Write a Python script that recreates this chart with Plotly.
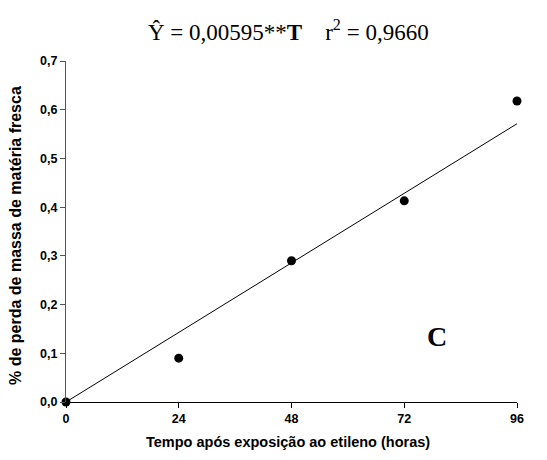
import plotly.graph_objects as go

tempo = [0, 24, 48, 72, 96]
perda = [0.0, 0.09, 0.29, 0.413, 0.618]
coef = 0.00595
x_ticks = [0, 24, 48, 72, 96]
y_ticks = [0.0, 0.1, 0.2, 0.3, 0.4, 0.5, 0.6, 0.7]
y_labels = ["0,0", "0,1", "0,2", "0,3", "0,4", "0,5", "0,6", "0,7"]

fit_x = [0, 96]
fit_y = [coef * t for t in fit_x]

OFF = 8  # default page body margin
W, H = 547 - OFF, 460 - OFF
L, T = 66 - OFF, 61 - OFF
R, B = 30, 58
pw, ph = W - L - R, H - T - B


def px(x):
    return (x - OFF - L) / pw


def py(y):
    return (T + ph - (y - OFF)) / ph


fig = go.Figure()
fig.add_trace(go.Scatter(x=fit_x, y=fit_y, mode="lines",
                         line=dict(color="black", width=1), showlegend=False,
                         cliponaxis=False))
fig.add_trace(go.Scatter(x=tempo, y=perda, mode="markers",
                         marker=dict(color="black", size=9), showlegend=False,
                         cliponaxis=False))

fig.update_layout(
    width=W, height=H,
    margin=dict(l=L, r=R, t=T, b=B, autoexpand=False),
    paper_bgcolor="white", plot_bgcolor="white",
    font=dict(family="Liberation Sans, Arial", color="black"),
    xaxis=dict(range=[0, 96], tickvals=x_ticks,
               ticktext=["<b>%d</b>" % v for v in x_ticks], automargin=False,
               showgrid=False, zeroline=False, showline=True, linecolor="black",
               linewidth=1, ticks="outside", ticklen=5, tickcolor="black",
               tickfont=dict(size=12.5, family="Liberation Sans", color="black")),
    yaxis=dict(range=[0, 0.7], tickvals=y_ticks, ticktext=["<b>%s</b>" % s for s in y_labels],
               automargin=False,
               showgrid=False, zeroline=False, showline=True, linecolor="#555",
               linewidth=1, ticks="outside", ticklen=5, tickcolor="#555",
               tickfont=dict(size=12.5, family="Liberation Sans", color="black")),
)

fig.add_annotation(xref="paper", yref="paper", x=px(288), y=py(442),
                   text="<b>Tempo após exposição ao etileno (horas)</b>",
                   showarrow=False, xanchor="center", yanchor="middle",
                   font=dict(family="Liberation Sans", size=14.5, color="black"))
fig.add_annotation(xref="paper", yref="paper", x=px(15), y=py(236),
                   text="<b>% de perda de massa de matéria fresca</b>", textangle=-90,
                   showarrow=False, xanchor="center", yanchor="middle",
                   font=dict(family="Liberation Sans", size=16, color="black"))
fig.add_annotation(xref="paper", yref="paper", x=px(288), y=py(30),
                   text="Ŷ = 0,00595**<b>T</b>    r<sup>2</sup> = 0,9660",
                   showarrow=False, xanchor="center", yanchor="middle",
                   font=dict(family="Liberation Serif, Times New Roman", size=23, color="black"))
fig.add_annotation(xref="x", yref="y", x=79, y=0.134, text="<b>C</b>",
                   showarrow=False, xanchor="center", yanchor="middle",
                   font=dict(family="Liberation Serif, Times New Roman", size=28, color="black"))

fig.write_html("out.html")
